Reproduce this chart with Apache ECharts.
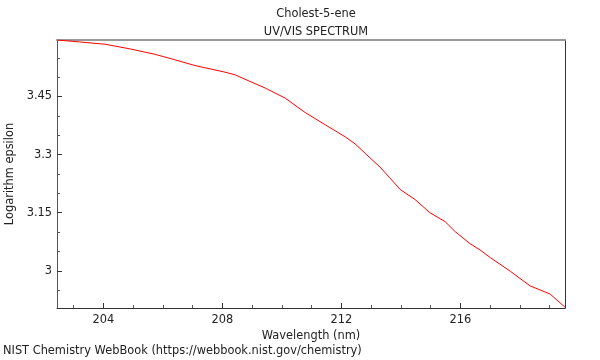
<!DOCTYPE html>
<html>
<head>
<meta charset="utf-8">
<script src="https://cdn.jsdelivr.net/npm/echarts@6/dist/echarts.min.js"></script>
<style>html,body{margin:0;padding:0;background:#fff}#c{width:600px;height:360px}</style>
</head>
<body>
<div id="c"></div>
<script>
const wavelength = [202.44, 203.2, 204.06, 204.9, 205.74, 206.4, 207.08, 208.09, 208.43, 208.9, 209.44, 210.11, 210.78, 211.46, 212.13, 212.46, 212.96, 213.3, 213.63, 213.98, 214.48, 214.98, 215.49, 215.83, 216.33, 216.7, 217.01, 217.68, 218.35, 219.02, 219.52];
const logEpsilon = [3.596, 3.591, 3.585, 3.573, 3.559, 3.545, 3.530, 3.513, 3.506, 3.490, 3.472, 3.446, 3.409, 3.377, 3.346, 3.328, 3.292, 3.268, 3.240, 3.210, 3.184, 3.150, 3.127, 3.101, 3.070, 3.052, 3.034, 2.999, 2.961, 2.940, 2.906];
const xMajorTicks = [204, 208, 212, 216];
const xMinorTicks = [203, 205, 206, 207, 209, 210, 211, 213, 214, 215, 217, 218, 219];
const yMajorTicks = [3, 3.15, 3.3, 3.45];
const yMinorTicks = [2.95, 3.05, 3.1, 3.2, 3.25, 3.35, 3.4, 3.5, 3.55];
const xMin = 202.44, xMax = 219.52, yMin = 2.904, yMax = 3.596;

const font = 'DejaVu Sans';
const fs = 11.4;
const txt = '#222';
const chart = echarts.init(document.getElementById('c'), null, {renderer: 'canvas'});
const baseX = {type: 'value', min: xMin, max: xMax, splitLine: {show: false}};
const baseY = {type: 'value', min: yMin, max: yMax, splitLine: {show: false}};
chart.setOption({
  animation: false,
  title: {
    text: 'Cholest-5-ene\nUV/VIS SPECTRUM',
    left: 311, top: 0, textAlign: 'center',
    textStyle: {fontFamily: font, fontSize: fs, fontWeight: 'normal', color: txt, lineHeight: 18}
  },
  grid: {left: 57, right: 35, top: 40, bottom: 52, outerBoundsMode: 'none', containLabel: false},
  graphic: [{
    type: 'text', left: 3, top: 346,
    style: {text: 'NIST Chemistry WebBook (https://webbook.nist.gov/chemistry)', fontFamily: font, fontSize: fs, fill: txt}
  }],
  xAxis: [
    Object.assign({}, baseX, {
      position: 'bottom',
      name: 'Wavelength (nm)', nameLocation: 'middle', nameGap: 19,
      nameTextStyle: {fontFamily: font, fontSize: fs, color: txt},
      axisLine: {lineStyle: {color: '#333', width: 1}},
      axisTick: {inside: true, length: 5, customValues: xMajorTicks, lineStyle: {color: '#333'}},
      axisLabel: {customValues: xMajorTicks, fontFamily: font, fontSize: fs, color: txt, margin: 7}
    }),
    Object.assign({}, baseX, {
      position: 'bottom',
      axisLine: {show: false},
      axisTick: {inside: true, length: 3, customValues: xMinorTicks, lineStyle: {color: '#555'}},
      axisLabel: {show: false}
    }),
    Object.assign({}, baseX, {
      position: 'top',
      axisLine: {lineStyle: {color: '#999', width: 2}},
      axisTick: {show: false},
      axisLabel: {show: false}
    })
  ],
  yAxis: [
    Object.assign({}, baseY, {
      position: 'left',
      name: 'Logarithm epsilon', nameLocation: 'middle', nameGap: 40,
      nameTextStyle: {fontFamily: font, fontSize: fs, color: txt},
      axisLine: {show: true, lineStyle: {color: '#555', width: 1}},
      axisTick: {show: true, inside: true, length: 5, customValues: yMajorTicks, lineStyle: {color: '#333'}},
      axisLabel: {customValues: yMajorTicks, fontFamily: font, fontSize: fs, color: txt, margin: 5, padding: [3, 0, 0, 0]}
    }),
    Object.assign({}, baseY, {
      position: 'left',
      axisLine: {show: false},
      axisTick: {show: true, inside: true, length: 3, customValues: yMinorTicks, lineStyle: {color: '#555'}},
      axisLabel: {show: false}
    }),
    Object.assign({}, baseY, {
      position: 'right',
      axisLine: {show: true, lineStyle: {color: '#333', width: 1}},
      axisTick: {show: false},
      axisLabel: {show: false}
    })
  ],
  series: [{
    type: 'line',
    xAxisIndex: 0, yAxisIndex: 0,
    data: wavelength.map((w, i) => [w, logEpsilon[i]]),
    showSymbol: false, symbol: 'none',
    lineStyle: {color: '#ff0000', width: 1},
    clip: true
  }]
});
</script>
</body>
</html>
